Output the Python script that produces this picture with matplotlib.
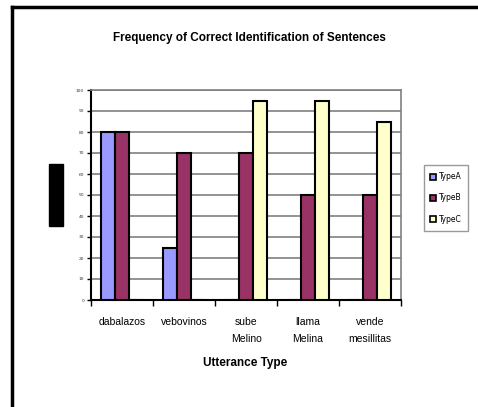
import matplotlib.pyplot as plt
import numpy as np
from matplotlib.patches import Rectangle
from matplotlib.lines import Line2D

categories = ['dabalazos', 'vebovinos', 'sube\nMelino', 'llama\nMelina', 'vende\nmesillitas']
type_a = [80, 25, 0, 0, 0]
type_b = [80, 70, 70, 50, 50]
type_c = [0, 0, 95, 95, 85]
series_names = ['TypeA', 'TypeB', 'TypeC']
colors = ['#9999FF', '#993366', '#FFFFCC']

W, H = 478, 407
fig = plt.figure(figsize=(W / 100, H / 100), dpi=100)
fig.patch.set_facecolor('white')

# plot area in pixels: x 91..401, y 90..300
ax = fig.add_axes([91 / W, 1 - 300 / H, 310 / W, 210 / H])

x = np.arange(len(categories))
bw = 0.225
for i, (vals, c) in enumerate(zip([type_a, type_b, type_c], colors)):
    ax.bar(x + (i - 1) * bw, vals, width=bw, color=c, edgecolor='black',
           linewidth=1.5, zorder=3)

ax.set_xlim(-0.5, len(categories) - 0.5)
ax.set_ylim(0, 100)
ax.set_yticks(np.arange(0, 101, 10))
ax.set_yticklabels([str(v) for v in range(0, 101, 10)], fontsize=3.2, color='#333333')
ax.yaxis.grid(True, color='#808080', linewidth=1.2, zorder=0)
ax.set_xticks(x)
ax.set_xticklabels(categories, fontsize=7.5, linespacing=1.95, family='Liberation Sans')
ax.tick_params(axis='x', which='major', length=0, pad=12)
ax.set_xticks(np.arange(-0.5, len(categories)), minor=True)
ax.tick_params(axis='x', which='minor', length=4, width=1, direction='out')
ax.tick_params(axis='y', length=3, width=1, pad=2)
ax.spines['left'].set_linewidth(1.5)
ax.spines['bottom'].set_linewidth(1.5)
ax.spines['top'].set_color('#808080')
ax.spines['right'].set_color('#808080')
ax.spines['top'].set_linewidth(1.2)
ax.spines['right'].set_linewidth(1.2)

fig.text(249 / W, 1 - 38 / H, 'Frequency of Correct Identification of Sentences',
         ha='center', va='center', fontsize=8.5, fontweight='bold', family='Liberation Sans')
fig.text(245 / W, 1 - 363 / H, 'Utterance Type', ha='center', va='center',
         fontsize=8.5, fontweight='bold', family='Liberation Sans')

# black block at the y label position
fig.add_artist(Rectangle((49 / W, 1 - 226 / H), 14 / W, 62 / H,
                         transform=fig.transFigure, color='black'))

# outer border (top and left visible)
fig.add_artist(Line2D([12 / W, 12 / W], [0, 1 - 7 / H], transform=fig.transFigure,
                      color='black', linewidth=2.5))
fig.add_artist(Line2D([12 / W, 1], [1 - 7 / H, 1 - 7 / H], transform=fig.transFigure,
                      color='black', linewidth=2.5))

handles = [Line2D([], [], marker='s', linestyle='none', markerfacecolor=c,
                  markeredgecolor='black', markeredgewidth=1.2, markersize=4)
           for c in colors]
leg = fig.legend(handles, series_names, loc='center', bbox_to_anchor=(446 / W, 1 - 198 / H),
                 fontsize=5.5, frameon=True, fancybox=False, handlelength=0.8,
                 handletextpad=0.3, labelspacing=1.6, borderpad=0.9)
leg.get_frame().set_edgecolor('#808080')
leg.get_frame().set_linewidth(1)

fig.savefig('out.png', dpi=100)
